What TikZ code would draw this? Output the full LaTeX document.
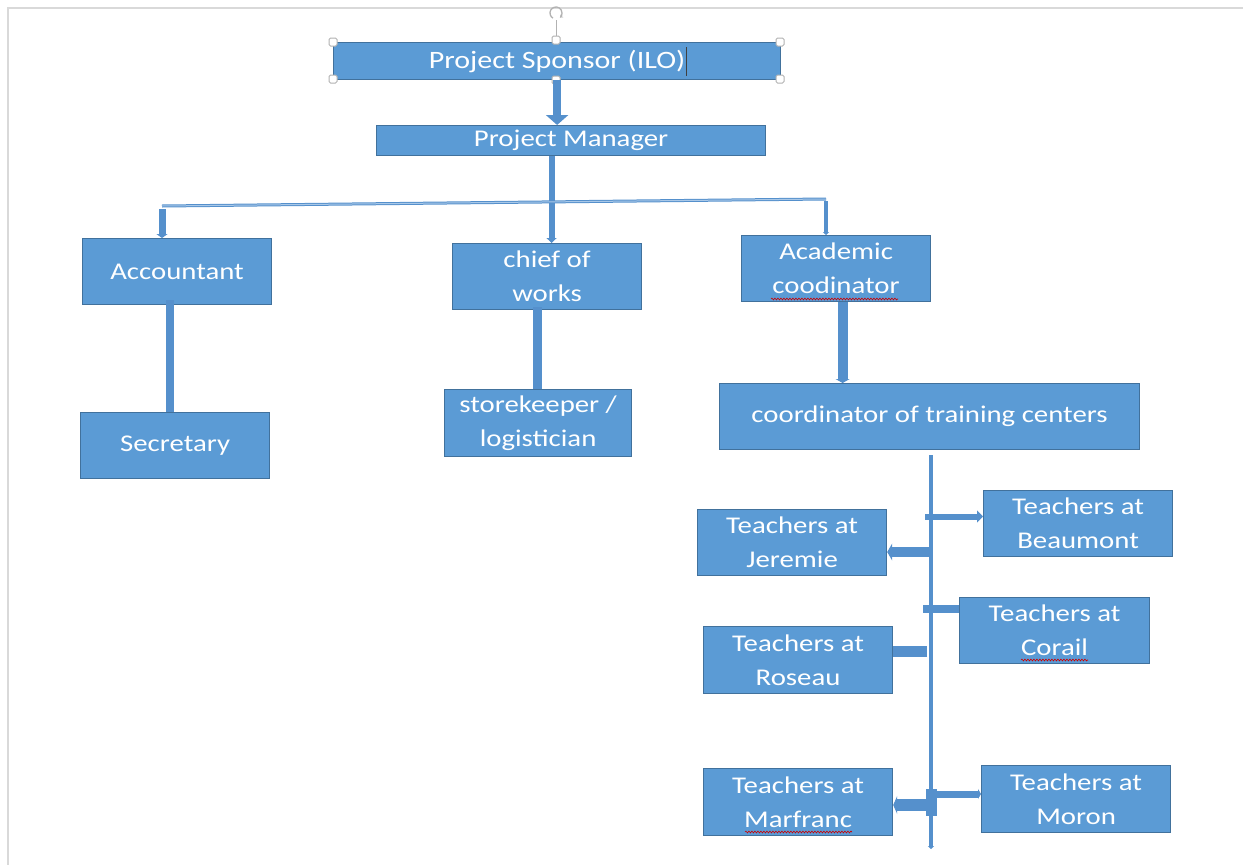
\documentclass[tikz,border=0pt]{standalone}
\usepackage{fontspec}
\setmainfont[FakeStretch=1.2]{Carlito}
\usetikzlibrary{arrows.meta,decorations.pathmorphing}
\definecolor{boxfill}{HTML}{5B9BD5}
\definecolor{boxline}{HTML}{41719C}
\definecolor{conn}{HTML}{5590CC}
\definecolor{framegray}{HTML}{D9D9D9}
\definecolor{lightconn}{HTML}{A9C8E8}
\begin{document}
\begin{tikzpicture}[x=1pt,y=-1pt,
  box/.style={draw=boxline, fill=boxfill, line width=1.2pt, text=white, align=center,
    inner sep=0pt, anchor=north west, font=\fontsize{24}{34}\selectfont},
  bar/.style={draw=conn, line width=#1},
  handle/.style={draw=gray!60, fill=white, minimum size=8pt, inner sep=0pt,
    rounded corners=1.5pt, line width=1pt},
  wavy/.style={draw=red!80!black, line width=0.6pt, decorate,
    decoration={snake, amplitude=0.9pt, segment length=3pt}}]
\useasboundingbox (0,0) rectangle (1243,865);
% page frame
\draw[framegray, line width=2pt] (8,865) -- (8,8) -- (1243,8);

% boxes
\node[box, minimum width=447pt, minimum height=37pt, font=\fontsize{25}{30}\selectfont] (sponsor) at (333,42) {Project Sponsor (ILO)};
\node[box, minimum width=389pt, minimum height=30pt] (manager) at (376,125) {Project Manager};
\node[box, minimum width=189pt, minimum height=66pt] (acc) at (82,238) {Accountant};
\node[box, minimum width=189pt, minimum height=66pt] (chief) at (452,243) {chief of\\works};
\node[box, minimum width=189pt, minimum height=66pt] (acad) at (741,235) {Academic\\coodinator};
\node[box, minimum width=189pt, minimum height=66pt] (sec) at (80,412) {Secretary};
\node[box, minimum width=187pt, minimum height=67pt] (store) at (444,389) {storekeeper /\\logistician};
\node[box, minimum width=420pt, minimum height=66pt] (coord) at (719,383) {coordinator of training centers};
\node[box, minimum width=189pt, minimum height=66pt] (beau) at (983,490) {Teachers at\\Beaumont};
\node[box, minimum width=189pt, minimum height=66pt] (jer) at (697,509) {Teachers at\\Jeremie};
\node[box, minimum width=190pt, minimum height=66pt] (cor) at (959,597) {Teachers at\\Corail};
\node[box, minimum width=189pt, minimum height=67pt] (ros) at (703,626) {Teachers at\\Roseau};
\node[box, minimum width=189pt, minimum height=67pt] (marf) at (703,768) {Teachers at\\Marfranc};
\node[box, minimum width=189pt, minimum height=67pt] (mor) at (981,765) {Teachers at\\Moron};

% selection handles, rotation handle and caret
\draw[gray!60, line width=1pt] (556,38) -- (556,20);
\draw[gray!60, line width=1.3pt, -{Stealth[length=3pt,width=4pt]}] (553,18.2) arc[start angle=120, end angle=410, radius=6];
\foreach \p [count=\i] in {(333,42),(780,42),(333,79),(780,79),(556,40),(556,80)}
  \node[handle] (h\i) at \p {};
\draw[black!75, line width=0.9pt] (686,47) -- (686,76);

% sponsor -> manager
\draw[bar=8pt, -{Triangle[width=22pt,length=10pt]}] (sponsor.south) -- (sponsor.south |- manager.north);
% manager -> chief
\draw[bar=6pt, -{Triangle[width=10pt,length=5pt]}] ([xshift=-19.5pt]manager.south) -- ([xshift=-19.5pt]manager.south |- chief.north);

% horizontal branch
\coordinate (hl) at (162,206);
\coordinate (hr) at (826,199);
\draw[draw=conn, line width=3pt] (hl) -- (hr);
\draw[draw=lightconn, line width=1pt] (hl) -- (hr);
\draw[bar=7pt, -{Triangle[width=11pt,length=4pt]}] ([yshift=-3pt]hl) -- (hl |- acc.north);
\draw[bar=3.5pt, -{Triangle[width=6pt,length=3pt]}] ([yshift=-2pt]hr) -- (hr |- acad.north);

% accountant -> secretary, chief -> storekeeper
\draw[bar=8pt] ([xshift=-7.5pt,yshift=5pt]acc.south) -- ([xshift=-7.5pt]acc.south |- sec.north);
\draw[bar=9pt] ([xshift=-10pt,yshift=3pt]chief.south) -- ([xshift=-10pt]chief.south |- store.north);

% academic -> coordinator
\draw[bar=10pt, -{Triangle[width=14pt,length=4pt]}] ([xshift=6.5pt]acad.south) -- ([xshift=6.5pt]acad.south |- coord.north);

% spine
\coordinate (spT) at (931,455);
\coordinate (spB) at (931,849);
\draw[bar=4pt, -{Triangle[width=6pt,length=3pt]}] (spT) -- (spB);

% branches from spine
\coordinate (jB) at (925,516.5);
\draw[bar=6pt, -{Triangle[width=12pt,length=6pt]}] (jB) -- (jB -| beau.west);
\coordinate (jJ) at (931,552);
\draw[bar=10pt, -{Triangle[width=17pt,length=5pt]}] (jJ) -- (jJ -| jer.east);
\coordinate (jC) at (923,609);
\draw[bar=8pt] (jC) -- (jC -| cor.west);
\coordinate (jR) at (927,651);
\draw[bar=11pt] (jR) -- (jR -| ros.east);
\coordinate (jM) at (936,805);
\draw[bar=12pt, -{Triangle[width=18pt,length=4pt]}] (jM) -- (jM -| marf.east);
\coordinate (jO) at (929,794);
\draw[bar=7pt, -{Triangle[width=10pt,length=3pt]}] (jO) -- (jO -| mor.west);
\fill[conn] (926,789) rectangle (937,816);

% spelling underlines
\draw[wavy] (771,299) -- (898,299);
\draw[wavy] (1021,660) -- (1088,660);
\draw[wavy] (745,832) -- (852,832);
\end{tikzpicture}
\end{document}
